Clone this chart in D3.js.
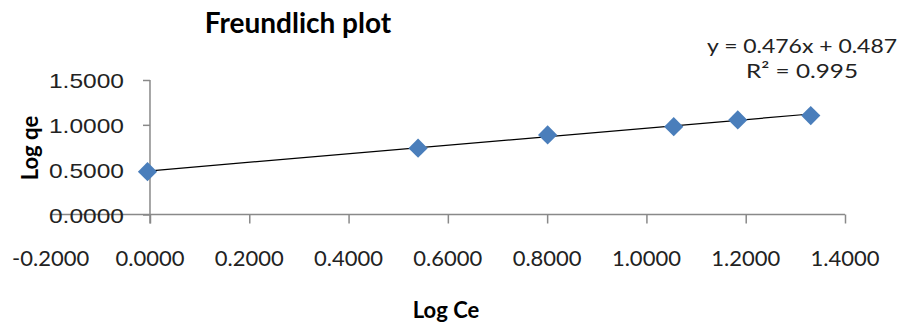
<!DOCTYPE html>
<html>
<head>
<meta charset="utf-8">
<script src="https://cdn.jsdelivr.net/npm/d3@7"></script>
<style>
  body { margin: 0; background: #fff; }
  svg { display: block; }
</style>
</head>
<body>
<svg id="chart" width="904" height="324"></svg>
<script>
// data
const logCe = [-0.005, 0.540, 0.801, 1.055, 1.184, 1.331]
const logQe = [0.478, 0.739, 0.887, 0.980, 1.055, 1.103]
const xTicks = [-0.2, 0, 0.2, 0.4, 0.6, 0.8, 1.0, 1.2, 1.4]
const yTicks = [0, 0.5, 1.0, 1.5]
const slope = 0.476
const intercept = 0.487
const equationLines = ['y = 0.476x + 0.487', 'R² = 0.995']
const equationWidths = [190, 112]

const axisColor = '#898989'
const markerColor = '#4a7ebb'

// plain hyphen for negatives, like the original
const fmt = d3.formatLocale({ decimal: '.', thousands: ',', grouping: [3], currency: ['', ''], minus: '-' }).format('.4f')

const svg = d3.select('#chart')

const x = d3.scaleLinear().domain([-0.2, 1.4]).range([50.7, 845])
const y = d3.scaleLinear().domain([0, 1.5]).range([214.5, 80])

const points = logCe.map((d, i) => ({ x: d, y: logQe[i] }))

// title
svg.append('text')
  .attr('x', 298)
  .attr('y', 33)
  .attr('text-anchor', 'middle')
  .style('font-family', 'Lato')
  .style('font-weight', 'bold')
  .style('font-size', '28px')
  .text('Freundlich plot')

// x axis line across the whole range, ticks only for 0 .. 1.4
svg.append('line')
  .attr('x1', x(-0.2))
  .attr('x2', x(1.4))
  .attr('y1', y(0))
  .attr('y2', y(0))
  .attr('stroke', axisColor)
  .attr('stroke-width', 1.5)

const xAxis = svg.append('g')
  .attr('transform', `translate(0,${y(0)})`)
  .call(d3.axisBottom(x).tickValues(xTicks.filter(d => d >= 0)).tickSize(9).tickFormat(''))
xAxis.select('.domain').remove()
xAxis.selectAll('line').attr('stroke', axisColor).attr('stroke-width', 1.5)

svg.append('g')
  .selectAll('text')
  .data(xTicks)
  .enter()
  .append('text')
  .attr('x', d => x(d))
  .attr('y', 266)
  .attr('text-anchor', 'middle')
  .style('font-family', 'Lato')
  .style('font-size', '22px')
  .style('fill', '#222')
  .text(d => fmt(d))

// y axis sits at x = 0
svg.append('line')
  .attr('x1', x(0))
  .attr('x2', x(0))
  .attr('y1', y(1.5))
  .attr('y2', y(0) + 9)
  .attr('stroke', axisColor)
  .attr('stroke-width', 1.5)

const yAxis = svg.append('g')
  .attr('transform', `translate(${x(0)},0)`)
  .call(d3.axisLeft(y).tickValues(yTicks).tickSize(7).tickPadding(19).tickFormat(fmt))
yAxis.select('.domain').remove()
yAxis.selectAll('line').attr('stroke', axisColor).attr('stroke-width', 1.5)
yAxis.selectAll('text')
  .attr('dy', '0.36em')
  .attr('textLength', 75)
  .attr('lengthAdjust', 'spacingAndGlyphs')
  .style('font-family', 'Liberation Sans')
  .style('font-size', '21px')
  .style('fill', '#222')

// axis titles
svg.append('text')
  .attr('x', 446)
  .attr('y', 318)
  .attr('text-anchor', 'middle')
  .style('font-family', 'Lato')
  .style('font-weight', 'bold')
  .style('font-size', '22px')
  .text('Log Ce')

svg.append('text')
  .attr('transform', 'translate(38,148) rotate(-90)')
  .attr('text-anchor', 'middle')
  .style('font-family', 'Lato')
  .style('font-weight', 'bold')
  .style('font-size', '22px')
  .text('Log qe')

// linear trendline over the data range
const xExtent = d3.extent(logCe)
svg.append('line')
  .attr('x1', x(xExtent[0]))
  .attr('y1', y(slope * xExtent[0] + intercept))
  .attr('x2', x(xExtent[1]))
  .attr('y2', y(slope * xExtent[1] + intercept))
  .attr('stroke', '#000')
  .attr('stroke-width', 1.2)

// diamond markers
svg.append('g')
  .selectAll('path')
  .data(points)
  .enter()
  .append('path')
  .attr('d', d3.symbol(d3.symbolSquare, 185))
  .attr('transform', d => `translate(${x(d.x)},${y(d.y)}) rotate(45)`)
  .attr('fill', markerColor)

// trendline equation
svg.append('g')
  .selectAll('text')
  .data(equationLines)
  .enter()
  .append('text')
  .attr('x', 802)
  .attr('y', (d, i) => 53 + i * 25)
  .attr('text-anchor', 'middle')
  .attr('textLength', (d, i) => equationWidths[i])
  .attr('lengthAdjust', 'spacingAndGlyphs')
  .style('font-family', 'Lato')
  .style('font-size', '20px')
  .style('fill', '#222')
  .text(d => d)
</script>
</body>
</html>
